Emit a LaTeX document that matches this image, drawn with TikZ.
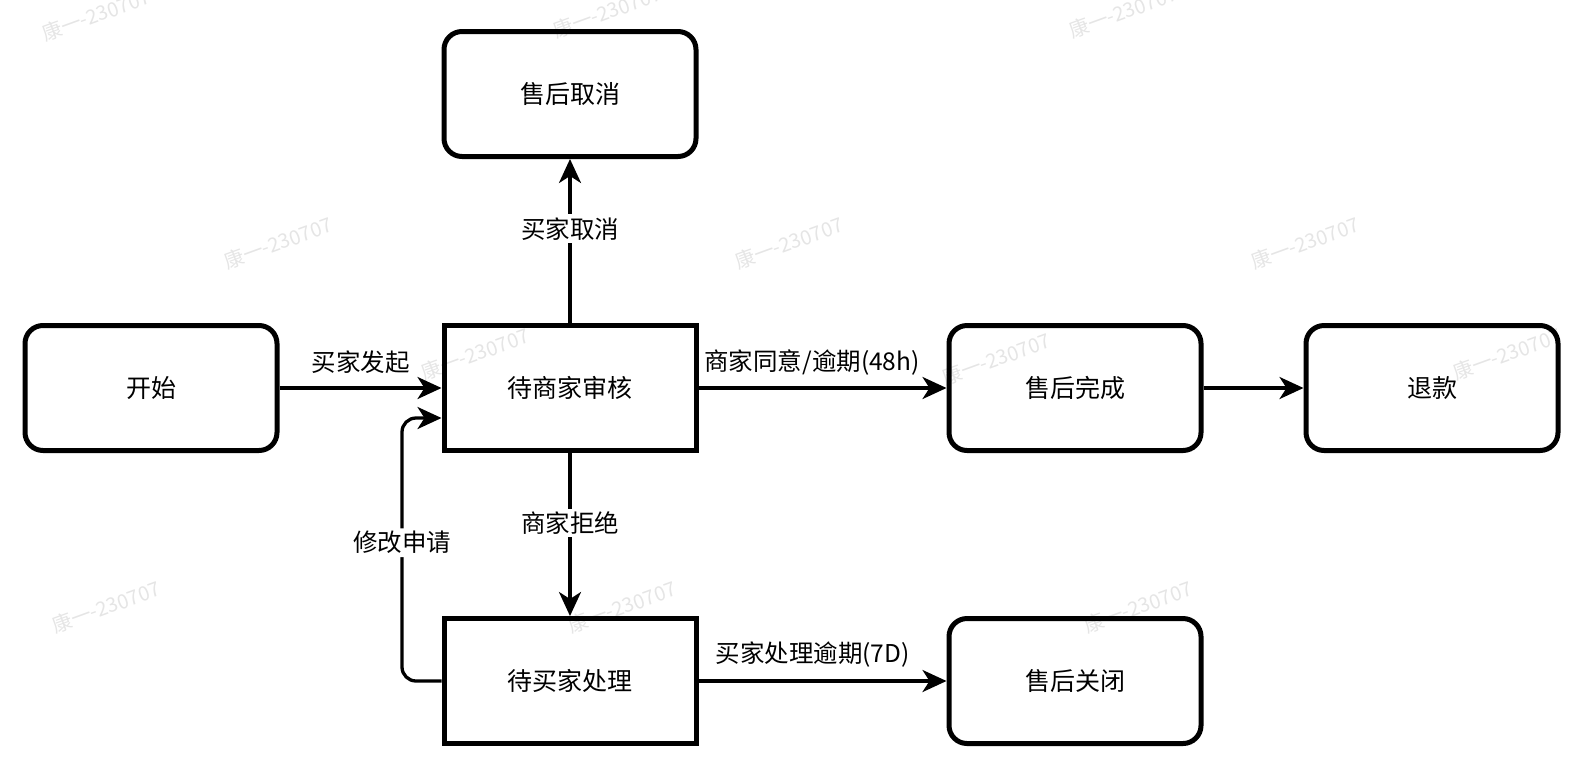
\documentclass[tikz,border=0pt]{standalone}
\usepackage{fontspec}
\newfontfamily\cjk{Noto Sans CJK SC}
\usetikzlibrary{arrows.meta,calc}
\tikzset{
  box/.style={draw=black, line width=5pt, minimum width=252pt, minimum height=125pt, inner sep=0pt, font=\cjk\fontsize{25}{29}\selectfont},
  rbox/.style={box, rounded corners=18pt},
  sbox/.style={box},
  conn/.style={line width=3.3pt, -{Stealth[length=24pt,width=22pt,inset=7pt]}},
  lbl/.style={font=\cjk\fontsize{24.5}{28}\selectfont, inner sep=1pt},
  wlbl/.style={lbl, fill=white, inner sep=3pt},
  wm/.style={font=\cjk\fontsize{20}{24}\selectfont, text=black, text opacity=0.1, rotate=20}
}
\begin{document}
\begin{tikzpicture}[x=1pt,y=-1pt]
\useasboundingbox (0,0) rectangle (1586,780);
\node[rbox] (start) at (151,388) {开始};
\node[sbox] (shenhe) at (570,388) {待商家审核};
\node[rbox] (cancel) at (570,94) {售后取消};
\node[rbox] (done) at (1075,388) {售后完成};
\node[rbox] (refund) at (1432,388) {退款};
\node[sbox] (buyer) at (570,681) {待买家处理};
\node[rbox] (closed) at (1075,681) {售后关闭};
\coordinate (loopin) at ($(shenhe.west)+(0,30)$);
\coordinate (loopx) at (402,0);

\draw[conn] (start) -- node[lbl, midway, yshift=26pt] {买家发起} (shenhe);
\draw[conn] (shenhe) -- node[wlbl, pos=0.574] {买家取消} (cancel);
\draw[conn] (shenhe) -- node[lbl, pos=0.458, yshift=26pt] {商家同意/逾期(48h)} (done);
\draw[conn] (done) -- (refund);
\draw[conn] (shenhe) -- node[wlbl, pos=0.43] {商家拒绝} (buyer);
\draw[conn] (buyer) -- node[lbl, pos=0.46, yshift=26pt] {买家处理逾期(7D)} (closed);
\draw[conn, rounded corners=14pt] (buyer.west) -- (loopx |- buyer.west) -- node[wlbl, pos=0.526] {修改申请} (loopx |- loopin) -- (loopin);

\foreach \x/\y [count=\i] in {96/15, 607/12, 1123/12, 278/243, 789/243, 1305/243, 475/354, 996/359, 1507/354, 106/607, 622/607, 1138/607}
  \node[wm] (wm\i) at (\x,\y) {康一-230707};
\end{tikzpicture}
\end{document}
